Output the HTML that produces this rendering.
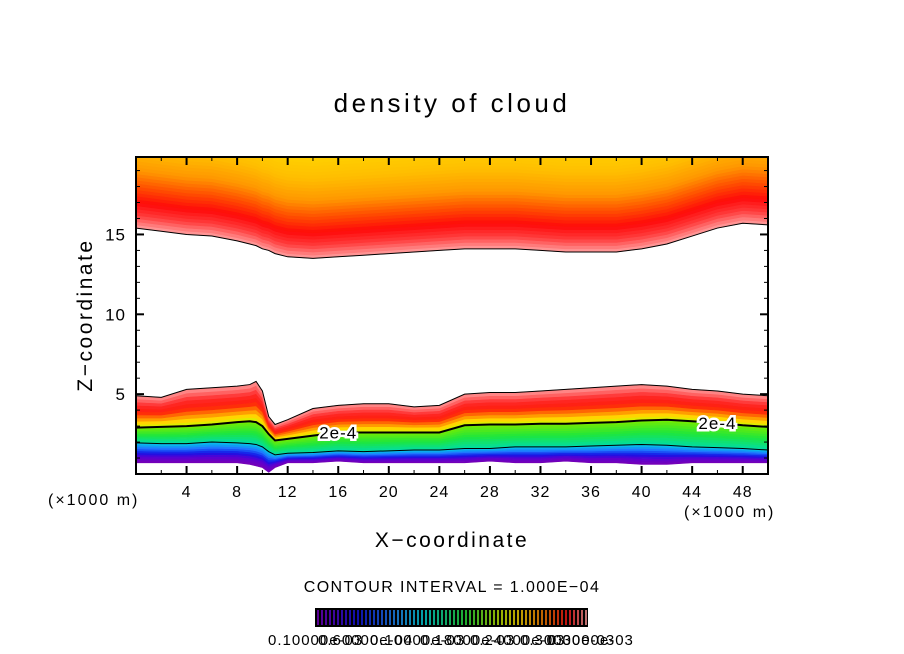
<!DOCTYPE html>
<html><head><meta charset="utf-8"><style>
body{margin:0;background:#fff;}
svg{display:block;font-family:"Liberation Sans",sans-serif;}
</style></head><body>
<svg id="chart" width="904" height="654" viewBox="0 0 904 654" xmlns="http://www.w3.org/2000/svg">
<rect width="904" height="654" fill="#fff"/>
<text x="452" y="112" font-size="26" letter-spacing="3.5" text-anchor="middle">density of cloud</text>
<defs><clipPath id="plotclip"><rect x="136" y="157" width="632" height="317"/></clipPath></defs>
<g id="fields" clip-path="url(#plotclip)"></g>
<g id="lines" clip-path="url(#plotclip)"></g>
<g id="axes"></g>
<rect x="136" y="157" width="632" height="317" fill="none" stroke="#000" stroke-width="2"/>
<text transform="translate(92,315) rotate(-90)" font-size="21" letter-spacing="2.5" text-anchor="middle">Z−coordinate</text>
<text x="452" y="547" font-size="21" letter-spacing="2.5" text-anchor="middle">X−coordinate</text>
<text x="48" y="505" font-size="16" letter-spacing="2">(×1000 m)</text>
<text x="684" y="517" font-size="16" letter-spacing="2">(×1000 m)</text>
<text x="452" y="592" font-size="16" letter-spacing="1.4" text-anchor="middle">CONTOUR INTERVAL = 1.000E−04</text>
<rect x="315" y="608" width="273" height="19" fill="#000"/>
<g id="cbar"></g>
<g font-size="15" letter-spacing="1">
<text x="268" y="645">0.10000e-03</text>
<text x="318" y="645">0.60000e-04</text>
<text x="370" y="645">0.10000e-03</text>
<text x="420" y="645">0.18000e-03</text>
<text x="470" y="645">0.24000e-03</text>
<text x="520" y="645">0.30000e-03</text>
<text x="548" y="645">0.3000e-03</text>
</g>
</svg>
<script>
// data (z in km, x in km)
const xs = [0,2,4,6,8,9,9.5,10,10.5,11,12,14,16,18,20,22,24,26,28,30,32,34,36,38,40,42,44,46,48,50];
const lowBottom = [0.7,0.7,0.7,0.7,0.7,0.6,0.5,0.4,0.1,0.4,0.7,0.7,0.8,0.7,0.7,0.7,0.7,0.7,0.8,0.7,0.7,0.8,0.7,0.7,0.6,0.6,0.7,0.7,0.7,0.7];
const lowContour = [1.95,1.9,1.9,2.0,1.95,1.9,1.85,1.7,1.4,1.2,1.3,1.35,1.45,1.4,1.45,1.5,1.5,1.6,1.6,1.7,1.7,1.7,1.75,1.8,1.85,1.8,1.7,1.65,1.6,1.5];
const contour2e4 = [2.9,2.95,3.0,3.1,3.25,3.3,3.25,3.0,2.5,2.1,2.2,2.4,2.6,2.6,2.6,2.6,2.6,3.05,3.1,3.1,3.15,3.15,3.2,3.25,3.35,3.4,3.3,3.2,3.05,2.95];
const lowTop = [4.9,4.8,5.3,5.4,5.5,5.6,5.8,5.2,3.6,3.1,3.4,4.1,4.3,4.4,4.4,4.2,4.3,5.0,5.1,5.1,5.2,5.3,5.4,5.5,5.6,5.5,5.3,5.2,5.0,4.9];
const upBottom = [15.4,15.2,15.0,14.9,14.6,14.4,14.3,14.1,14.0,13.8,13.6,13.5,13.6,13.7,13.8,13.9,14.0,14.1,14.1,14.1,14.0,13.9,13.9,13.9,14.1,14.4,14.9,15.4,15.7,15.6];
const xTicks = [4,8,12,16,20,24,28,32,36,40,44,48];
const zTicks = [5,10,15];
const contourLabels = ["2e-4","2e-4"];

const X0=136,X1=768,Y0=474,Y1=157,ZMAX=19.85;
const sx = x => X0 + x/50*(X1-X0);
const sz = z => Y0 - z/ZMAX*(Y0-Y1);
const NS="http://www.w3.org/2000/svg";
const mk=(t,a,p)=>{const e=document.createElementNS(NS,t);for(const k in a)e.setAttribute(k,a[k]);p.appendChild(e);return e;};

function lerp(a,b,t){return a.map((v,i)=>v+(b[i]-v)*t);}
function hex(c){return '#'+c.map(v=>Math.round(Math.max(0,Math.min(255,v))).toString(16).padStart(2,'0')).join('');}
function palette(stops,t){
  if(t<=stops[0][0])return hex(stops[0][1]);
  for(let i=0;i<stops.length-1;i++){
    if(t<=stops[i+1][0]){const f=(t-stops[i][0])/(stops[i+1][0]-stops[i][0]);return hex(lerp(stops[i][1],stops[i+1][1],f));}
  }
  return hex(stops[stops.length-1][1]);
}
function band(lo,hi,color,g){
  let d='M'+xs.map((x,i)=>sx(x)+','+sz(hi[i])).join(' L')+' L'+xs.slice().reverse().map((x,j)=>{const i=xs.length-1-j;return sx(x)+','+sz(lo[i]);}).join(' L')+'Z';
  mk('path',{d:d,fill:color,stroke:color,'stroke-width':0.6},g);
}
const fields=document.getElementById('fields');
const segs=[[lowBottom,lowContour,[[0,[120,0,180]],[0.3,[90,0,210]],[0.5,[20,20,230]],[0.75,[30,120,255]],[1,[0,200,230]]]],
            [lowContour,contour2e4,[[0,[0,220,170]],[0.5,[30,230,60]],[1,[120,235,0]]]],
            [contour2e4,lowTop,[[0,[200,240,0]],[0.12,[255,230,0]],[0.28,[255,140,0]],[0.48,[255,30,10]],[0.7,[255,40,40]],[0.88,[255,110,110]],[1,[255,150,150]]]]];
segs.forEach(([a,b,stops])=>{
  const N=10;
  for(let k=0;k<N;k++){
    const lo=a.map((v,i)=>v+(b[i]-v)*k/N), hi=a.map((v,i)=>v+(b[i]-v)*(k+1)/N);
    band(lo,hi,palette(stops,(k+0.5)/N),fields);
  }
});
const upStops=[[0,[255,160,160]],[0.8,[255,60,60]],[1.6,[255,10,10]],[2.6,[255,80,0]],[3.6,[255,150,0]],[5,[255,190,0]],[6.5,[255,210,0]]];
for(let k=0;k<36;k++){
  const h0=k*0.2;
  const lo=upBottom.map(v=>v+h0), hi=upBottom.map(v=>v+h0+0.22);
  band(lo,hi,palette(upStops,h0+0.1),fields);
}
const lines=document.getElementById('lines');
const line=(arr,w)=>mk('path',{d:'M'+xs.map((x,i)=>sx(x)+','+sz(arr[i])).join(' L'),fill:'none',stroke:'#000','stroke-width':w},lines);
line(upBottom,1);line(lowTop,1);line(lowContour,1);line(contour2e4,2);
[[16,contourLabels[0]],[46,contourLabels[1]]].forEach(([x,t])=>{
  const i=xs.findIndex(v=>v>=x);
  const tx=mk('text',{x:sx(x),y:sz(contour2e4[i])+6,'font-size':17,'letter-spacing':1,'text-anchor':'middle',stroke:'#fff','stroke-width':5,'paint-order':'stroke'},lines);
  tx.textContent=t;
});
const axes=document.getElementById('axes');
for(let x=2;x<50;x+=2){
  const major=x%4===0,L=major?8:4;
  mk('line',{x1:sx(x),x2:sx(x),y1:Y0,y2:Y0-L,stroke:'#000','stroke-width':major?2:1},axes);
  mk('line',{x1:sx(x),x2:sx(x),y1:Y1,y2:Y1+L,stroke:'#000','stroke-width':major?2:1},axes);
}
xTicks.forEach(v=>{const t=mk('text',{x:sx(v),y:497,'font-size':16,'letter-spacing':1,'text-anchor':'middle'},axes);t.textContent=v;});
for(let z=1;z<20;z++){
  const major=z%5===0,L=major?8:4;
  mk('line',{x1:X0,x2:X0+L,y1:sz(z),y2:sz(z),stroke:'#000','stroke-width':major?2:1},axes);
  mk('line',{x1:X1,x2:X1-L,y1:sz(z),y2:sz(z),stroke:'#000','stroke-width':major?2:1},axes);
}
zTicks.forEach(v=>{const t=mk('text',{x:126,y:sz(v)+6,'font-size':17,'letter-spacing':1,'text-anchor':'end'},axes);t.textContent=v;});
const cb=document.getElementById('cbar');
const cbStops=[[0,[120,0,200]],[0.15,[20,20,230]],[0.3,[30,150,255]],[0.4,[0,220,220]],[0.55,[40,230,60]],[0.68,[200,240,0]],[0.75,[255,220,0]],[0.85,[255,120,0]],[0.93,[255,20,20]],[1,[255,150,150]]];
for(let i=0;i<68;i++){
  const x=318+i*4;
  mk('line',{x1:x,x2:x,y1:610,y2:625,stroke:palette(cbStops,i/67),'stroke-width':1.5},cb);
}
</script>
</body></html>
